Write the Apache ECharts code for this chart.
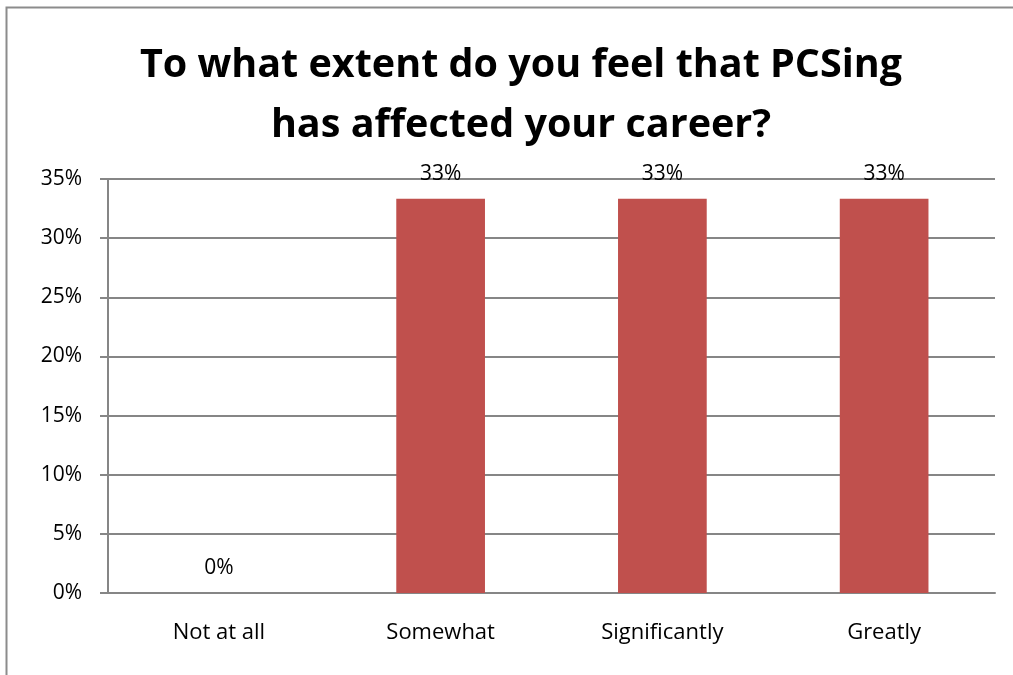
<!DOCTYPE html>
<html>
<head>
<meta charset="utf-8">
<style>html,body{margin:0;padding:0;background:#fff;overflow:hidden;}#c{width:1013px;height:675px;}</style>
<script src="https://cdn.jsdelivr.net/npm/echarts@6/dist/echarts.min.js"></script>
</head>
<body>
<div id="c"></div>
<script>
const titleText = "To what extent do you feel that PCSing\nhas affected your career?";
const categories = ["Not at all", "Somewhat", "Significantly", "Greatly"];
const values = [0, 33.33, 33.33, 33.33];
const yTicks = { min: 0, max: 35, interval: 5 };

const chart = echarts.init(document.getElementById('c'), null, { renderer: 'canvas' });
const font = "'Open Sans', 'Liberation Sans', sans-serif";
chart.setOption({
  animation: false,
  backgroundColor: '#fff',
  graphic: [{
    type: 'rect', shape: { x: 6.5, y: 7.5, width: 1100, height: 800 },
    style: { fill: 'none', stroke: '#8c8c8c', lineWidth: 2 }, z: 0
  }],
  title: {
    text: titleText, left: 516, top: 31, textAlign: 'center',
    textStyle: { fontFamily: font, fontWeight: 'bold', fontSize: 39.5, lineHeight: 60, color: '#000' }
  },
  grid: { left: 108, right: 18, top: 179, bottom: 82, containLabel: false },
  xAxis: {
    type: 'category', data: categories,
    axisLine: { lineStyle: { color: '#868686', width: 2 } },
    axisTick: { show: false },
    axisLabel: { fontFamily: font, fontSize: 22, color: '#000', margin: 29 }
  },
  yAxis: {
    type: 'value', min: yTicks.min, max: yTicks.max, interval: yTicks.interval,
    axisLine: { show: true, lineStyle: { color: '#868686', width: 2 } },
    axisTick: { show: true, length: 8, lineStyle: { color: '#868686', width: 2 } },
    splitLine: { lineStyle: { color: '#868686', width: 2 } },
    axisLabel: { fontFamily: font, fontSize: 21, color: '#000', margin: 26, formatter: v => v + '%' }
  },
  series: [{
    type: 'bar', data: values, barWidth: '40%',
    itemStyle: { color: '#c0504d' },
    label: {
      show: true, position: 'top', distance: 14,
      fontFamily: font, fontSize: 21, color: '#000',
      formatter: p => Math.round(p.value) + '%'
    }
  }]
});
</script>
</body>
</html>
